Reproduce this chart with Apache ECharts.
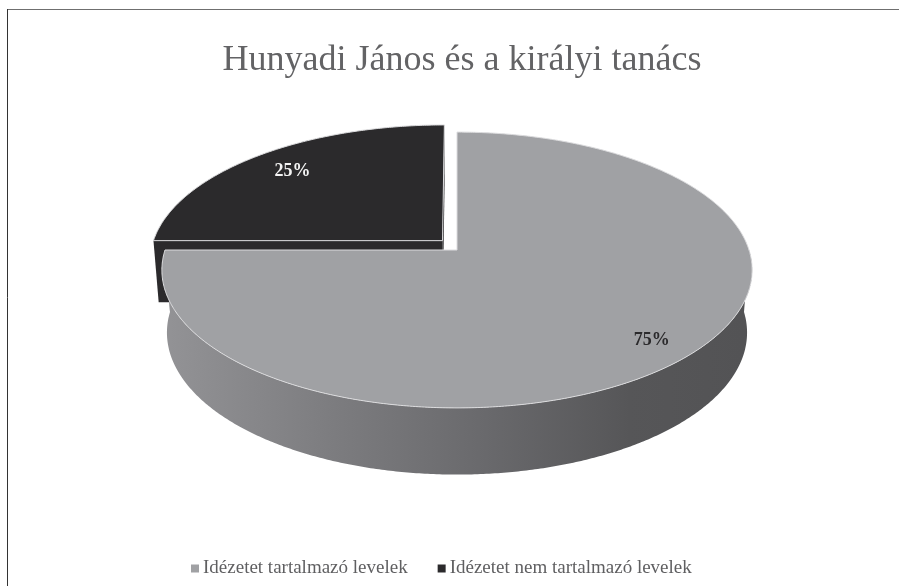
<!DOCTYPE html>
<html>
<head>
<meta charset="utf-8">
<style>html,body{margin:0;padding:0;background:#fff}#chart{width:899px;height:586px}</style>
<script src="https://cdn.jsdelivr.net/npm/echarts@6/dist/echarts.min.js"></script>
</head>
<body>
<div id="chart"></div>
<script>
const titleText = 'Hunyadi János és a királyi tanács';
const categories = ['Idézetet tartalmazó levelek', 'Idézetet nem tartalmazó levelek'];
const values = [75, 25];
const topColors = ['#a0a1a4', '#2b2a2c'];
const labelColors = ['#2b2a2c', '#f4f4f4'];
const labelRadius = [0.86, 0.8];
const explodeU = [0, -0.05];
const explodeV = [0, 0.07];

const FONT = '"Liberation Serif", "Times New Roman", serif';
const total = values.reduce((a, b) => a + b, 0);

// Perspective disc: u/v are unit-disc coordinates, k tilts the far side away.
const K = 0.145;
const TOP = { cx: 457, cy: 250, bx: 292, by: 135 };
const BOTTOM = { cx: 457, cy: 312, bx: 287, by: 139 };

function project(plane, u, v) {
  const d = 1 + K * v;
  return [plane.cx + plane.bx * u / d, plane.cy - plane.by * v / d];
}
function rimPoint(plane, deg, r, du, dv) {
  const a = deg * Math.PI / 180;
  return project(plane, r * Math.sin(a) + du, r * Math.cos(a) + dv);
}
function arc(plane, from, to, du, dv) {
  const pts = [];
  const n = Math.max(2, Math.ceil(Math.abs(to - from) * 2));
  for (let i = 0; i <= n; i++) pts.push(rimPoint(plane, from + (to - from) * i / n, 1, du, dv));
  return pts;
}

const wallGradient = {
  type: 'linear', global: true, x: 170, y: 0, x2: 745, y2: 0,
  colorStops: [
    { offset: 0, color: '#929295' },
    { offset: 0.3, color: '#7b7b7e' },
    { offset: 0.55, color: '#69696c' },
    { offset: 0.8, color: '#565658' },
    { offset: 1, color: '#535355' }
  ]
};

function sliceRenderer(index) {
  const start = values.slice(0, index).reduce((a, b) => a + b, 0) / total * 360;
  return function (params, api) {
    const end = start + api.value(0) / total * 360;
    const du = explodeU[index], dv = explodeV[index];
    const fill = topColors[index];
    const children = [];

    // Cut faces along each straight edge of the slice.
    [start, end].forEach(function (deg) {
      children.push({
        type: 'polygon',
        shape: { points: [
          project(TOP, du, dv), rimPoint(TOP, deg, 1, du, dv),
          rimPoint(BOTTOM, deg, 1, du, dv), project(BOTTOM, du, dv)
        ] },
        style: { fill: fill }
      });
    });

    // Outer wall: only the part of the rim that faces the viewer.
    const wallFrom = Math.max(start, 90), wallTo = Math.min(end, 270);
    if (wallTo > wallFrom) {
      children.push({
        type: 'polygon',
        shape: { points: arc(TOP, wallFrom, wallTo, du, dv).concat(arc(BOTTOM, wallTo, wallFrom, du, dv)) },
        style: { fill: wallGradient }
      });
    }

    // Upper face with a thin pale outline.
    children.push({
      type: 'polygon',
      shape: { points: [project(TOP, du, dv)].concat(arc(TOP, start, end, du, dv)) },
      style: { fill: fill, stroke: '#dcdcde', lineWidth: 1 }
    });

    // Percentage label.
    const mid = (start + end) / 2;
    const p = rimPoint(TOP, mid, labelRadius[index], du, dv);
    children.push({
      type: 'text',
      style: {
        text: Math.round(api.value(0) / total * 100) + '%',
        x: p[0], y: p[1], align: 'center', verticalAlign: 'middle',
        fill: labelColors[index], font: 'bold 18px ' + FONT
      }
    });
    return { type: 'group', children: children };
  };
}

const chart = echarts.init(document.getElementById('chart'), null, { renderer: 'canvas' });
chart.setOption({
  animation: false,
  backgroundColor: '#ffffff',
  title: {
    text: titleText, left: 457, top: 38, textAlign: 'center',
    textStyle: { fontFamily: FONT, fontWeight: 'normal', fontSize: 36, color: '#636365' }
  },
  legend: {
    data: categories, left: 186, top: 554, itemWidth: 8, itemHeight: 8, itemGap: 30,
    icon: 'rect', selectedMode: false,
    textStyle: { fontFamily: FONT, fontSize: 19, color: '#5f5f61', padding: [0, 0, 0, -1] }
  },
  graphic: [
    { type: 'line', shape: { x1: 7, y1: 9.5, x2: 899, y2: 9.5 }, style: { stroke: '#6f6f6f', lineWidth: 1 } },
    { type: 'line', shape: { x1: 7.5, y1: 9, x2: 7.5, y2: 586 }, style: { stroke: '#333333', lineWidth: 1 } }
  ],
  series: [0, 1].map(function (i) {
    return {
      type: 'custom',
      name: categories[i],
      coordinateSystem: 'none',
      z: 2 - i,
      itemStyle: { color: topColors[i] },
      renderItem: sliceRenderer(i),
      silent: true,
      data: [[values[i]]]
    };
  })
});
</script>
</body>
</html>
